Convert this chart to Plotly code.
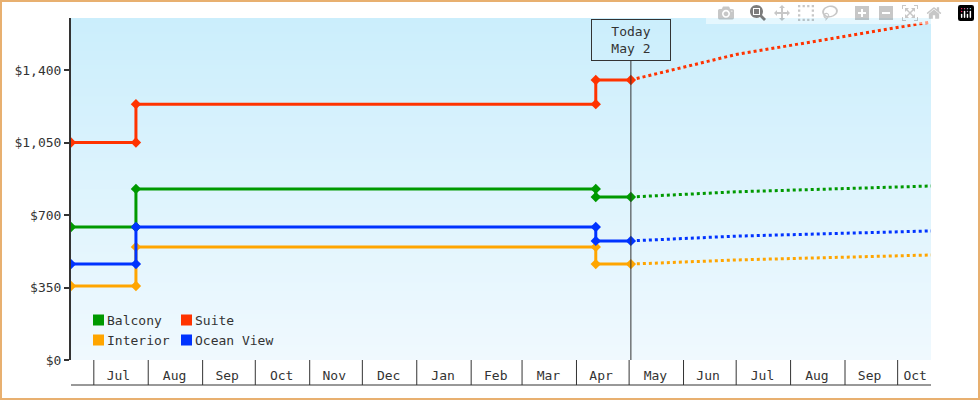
import plotly.graph_objects as go

start, step1, step2, today, end = "2023-06-18", "2023-07-25", "2024-04-12", "2024-05-02", "2024-10-20"
names = ["Balcony", "Suite", "Interior", "Ocean View"]
colors = ["#009900", "#ff3300", "#ffa500", "#0033ff"]
before = [642, 1050, 357, 463]
after1 = [826, 1235, 546, 642]
after2 = [787, 1352, 463, 575]
future_dates = [today, "2024-07-01", end]
future_vals = [[787, 812, 840], [1352, 1475, 1632], [463, 483, 507], [575, 598, 623]]

months = ["2023-07-01","2023-08-01","2023-09-01","2023-10-01","2023-11-01","2023-12-01","2024-01-01",
          "2024-02-01","2024-03-01","2024-04-01","2024-05-01","2024-06-01","2024-07-01","2024-08-01",
          "2024-09-01","2024-10-01"]
month_labels = ["Jul","Aug","Sep","Oct","Nov","Dec","Jan","Feb","Mar","Apr","May","Jun","Jul","Aug","Sep","Oct"]
label_pos = ["2023-07-15","2023-08-16","2023-09-15","2023-10-16","2023-11-15","2023-12-16","2024-01-16",
             "2024-02-15","2024-03-16","2024-04-15","2024-05-16","2024-06-15","2024-07-16","2024-08-16",
             "2024-09-15","2024-10-11"]
YMAX = 1651

fig = go.Figure()
# gradient background
fig.add_trace(go.Heatmap(z=[[0, 0], [1, 1]], x=[start, end], y=[0, YMAX], showscale=False,
                         colorscale=[[0, "#f0f9fe"], [1, "#cbeefc"]], hoverinfo="skip", zsmooth="best"))
for i, n in enumerate(names):
    xs = [start, step1, step1, step2, step2, today]
    ys = [before[i], before[i], after1[i], after1[i], after2[i], after2[i]]
    fig.add_trace(go.Scatter(x=xs, y=ys, mode="lines+markers", line=dict(color=colors[i], width=3),
                             marker=dict(symbol="diamond", size=8, color=colors[i]), showlegend=False))
    fig.add_trace(go.Scatter(x=future_dates, y=future_vals[i], mode="lines",
                             line=dict(color=colors[i], width=3, dash="dot"), showlegend=False))

W, H = 860, 342
def px(x): return (x - 71) / W
def py(y): return (360 - y) / H

shapes = [dict(type="rect", xref="paper", yref="paper", x0=px(1), x1=px(979), y0=py(399), y1=py(1),
               line=dict(color="#e8b070", width=2))]
bot = py(385)
for m in months:
    shapes.append(dict(type="line", xref="x", yref="paper", x0=m, x1=m, y0=0, y1=bot, line=dict(color="#333", width=1)))
shapes.append(dict(type="line", xref="paper", yref="paper", x0=0, x1=1, y0=bot, y1=bot, line=dict(color="#333", width=1)))
shapes.append(dict(type="line", xref="x", yref="paper", x0=today, x1=today, y0=0, y1=py(60), line=dict(color="#333", width=1)))

font = dict(family="DejaVu Sans Mono", size=13, color="#333")
annotations = [dict(text="Today<br>May 2", xref="x", yref="paper", x=today, y=py(61), yanchor="bottom",
                    showarrow=False, bordercolor="#333", borderwidth=1, borderpad=4, width=70, font=font)]
leg_pos = [(93, 320), (181, 320), (93, 340), (181, 340)]
for i, n in enumerate(names):
    lx, ly = leg_pos[i]
    shapes.append(dict(type="rect", xref="paper", yref="paper", x0=px(lx), x1=px(lx + 11),
                       y0=py(ly + 5.5), y1=py(ly - 5.5), fillcolor=colors[i], line=dict(width=0)))
    annotations.append(dict(text=n, xref="paper", yref="paper", x=px(lx + 12), y=py(ly), xanchor="left",
                            yanchor="middle", showarrow=False, font=font))

fig.update_layout(
    width=980, height=400, margin=dict(l=71, r=49, t=18, b=40),
    paper_bgcolor="white", plot_bgcolor="white", font=font, shapes=shapes, annotations=annotations,
    xaxis=dict(type="date", range=[start, end], tickvals=label_pos, ticktext=month_labels,
               ticks="", showgrid=False, zeroline=False, showline=False, ticklabelstandoff=6),
    yaxis=dict(range=[0, YMAX], tickvals=[0, 350, 700, 1050, 1400],
               ticktext=["$0", "$350", "$700", "$1,050", "$1,400"], ticks="outside", ticklen=5,
               tickwidth=2, tickcolor="#333", showline=True, linecolor="#333", linewidth=2,
               showgrid=False, zeroline=False),
    showlegend=False,
)
fig.write_html("out.html", post_script="document.body.style.margin='0';")
